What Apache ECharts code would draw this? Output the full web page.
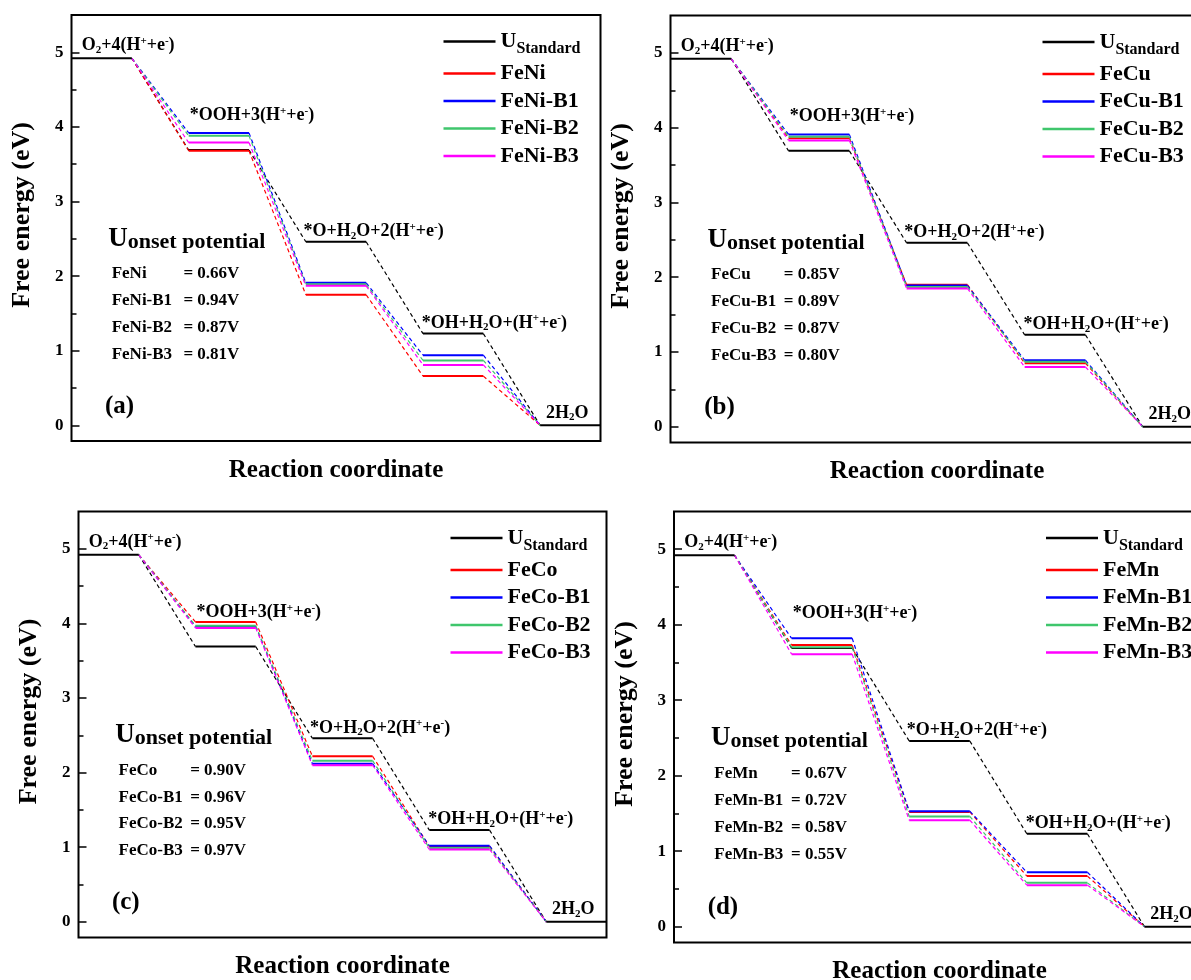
<!DOCTYPE html>
<html>
<head>
<meta charset="utf-8">
<title>Free energy diagrams</title>
<script src="https://cdn.jsdelivr.net/npm/echarts@6/dist/echarts.min.js"></script>
<style>
html, body { margin: 0; padding: 0; background: #fff; }
#main { width: 1191px; height: 980px; }
</style>
</head>
<body>
<div id="main"></div>
<script>
var SERIF = '"Liberation Serif", "Times New Roman", serif';

// reaction steps, rich text: {sub|..} subscript, {sup|..} superscript
var stepLabels = [
    '{n|O}{sub|2}{n|+4(H}{sup|+}{n|+e}{sup|-}{n|)}',
    '{n|*OOH+3(H}{sup|+}{n|+e}{sup|-}{n|)}',
    '{n|*O+H}{sub|2}{n|O+2(H}{sup|+}{n|+e}{sup|-}{n|)}',
    '{n|*OH+H}{sub|2}{n|O+(H}{sup|+}{n|+e}{sup|-}{n|)}',
    '{n|2H}{sub|2}{n|O}'
];

// free energy of each step (eV)
var standard = [4.92, 3.69, 2.46, 1.23, 0];

var feNi   = [4.92, 3.68, 1.75, 0.66, 0];
var feNiB1 = [4.92, 3.92, 1.91, 0.94, 0];
var feNiB2 = [4.92, 3.88, 1.89, 0.87, 0];
var feNiB3 = [4.92, 3.79, 1.87, 0.81, 0];

var feCu   = [4.92, 3.86, 1.90, 0.85, 0];
var feCuB1 = [4.92, 3.91, 1.89, 0.89, 0];
var feCuB2 = [4.92, 3.88, 1.87, 0.87, 0];
var feCuB3 = [4.92, 3.83, 1.85, 0.80, 0];

var feCo   = [4.92, 4.02, 2.22, 1.01, 0];
var feCoB1 = [4.92, 3.96, 2.12, 1.02, 0];
var feCoB2 = [4.92, 3.97, 2.16, 0.99, 0];
var feCoB3 = [4.92, 3.94, 2.10, 0.97, 0];

var feMn   = [4.92, 3.73, 1.52, 0.67, 0];
var feMnB1 = [4.92, 3.82, 1.53, 0.72, 0];
var feMnB2 = [4.92, 3.70, 1.46, 0.58, 0];
var feMnB3 = [4.92, 3.61, 1.41, 0.55, 0];

var namesA = ['FeNi', 'FeNi-B1', 'FeNi-B2', 'FeNi-B3'];
var namesB = ['FeCu', 'FeCu-B1', 'FeCu-B2', 'FeCu-B3'];
var namesC = ['FeCo', 'FeCo-B1', 'FeCo-B2', 'FeCo-B3'];
var namesD = ['FeMn', 'FeMn-B1', 'FeMn-B2', 'FeMn-B3'];

var onsetA = ['0.66V', '0.94V', '0.87V', '0.81V'];
var onsetB = ['0.85V', '0.89V', '0.87V', '0.80V'];
var onsetC = ['0.90V', '0.96V', '0.95V', '0.97V'];
var onsetD = ['0.67V', '0.72V', '0.58V', '0.55V'];

var yTicks = [0, 1, 2, 3, 4, 5];
var yMinorTicks = [0.5, 1.5, 2.5, 3.5, 4.5];

var colors = ['#ff0000', '#0000ff', '#3fc66c', '#ff00ff'];

var panels = [
    {letter: '(a)', names: namesA, onset: onsetA, levels: [feNi, feNiB1, feNiB2, feNiB3], eqAt: 0.955},
    {letter: '(b)', names: namesB, onset: onsetB, levels: [feCu, feCuB1, feCuB2, feCuB3], eqAt: 0.96},
    {letter: '(c)', names: namesC, onset: onsetC, levels: [feCo, feCoB1, feCoB2, feCoB3], eqAt: 0.955},
    {letter: '(d)', names: namesD, onset: onsetD, levels: [feMn, feMnB1, feMnB2, feMnB3], eqAt: 0.995}
];

// layout
var grids = [
    {left: 71.5, top: 15, width: 529, height: 426},
    {left: 670.5, top: 15.5, width: 533, height: 427},
    {left: 78.5, top: 511.5, width: 528, height: 426},
    {left: 674, top: 511.5, width: 531, height: 431}
];
var LEVEL_W = 0.515;
var X_MAX = 4.515;
var BREAK = ['-', '-'];

function solidPoints(vals, from, to) {
    var pts = [];
    for (var k = from; k <= to; k++) {
        if (pts.length) pts.push(BREAK);
        pts.push([k, vals[k]], [k + LEVEL_W, vals[k]]);
    }
    return pts;
}

function dashPoints(vals) {
    var pts = [];
    for (var k = 0; k < vals.length - 1; k++) {
        if (pts.length) pts.push(BREAK);
        pts.push([k + LEVEL_W, vals[k]], [k + 1, vals[k + 1]]);
    }
    return pts;
}

function lineSeries(name, p, color, data, dashed) {
    return {
        name: name,
        type: 'line',
        xAxisIndex: p,
        yAxisIndex: 2 * p,
        data: data,
        symbol: 'none',
        silent: true,
        animation: false,
        color: color,
        itemStyle: {color: color},
        lineStyle: dashed ? {color: color, width: 1.2, type: [4, 3]} : {color: color, width: 2},
        z: dashed ? 2 : 3
    };
}

var axisFont = {fontFamily: SERIF, fontWeight: 'bold', color: '#000'};

var option = {
    backgroundColor: '#fff',
    animation: false,
    grid: [],
    xAxis: [],
    yAxis: [],
    legend: [],
    series: []
};

panels.forEach(function (panel, p) {
    var g = grids[p];
    option.grid.push({
        left: g.left, top: g.top, width: g.width, height: g.height,
        show: true, borderColor: '#000', borderWidth: 2,
        backgroundColor: 'transparent', containLabel: false, outerBoundsMode: 'none'
    });
    option.xAxis.push({
        gridIndex: p, type: 'value', min: 0, max: X_MAX,
        axisLine: {show: false}, axisTick: {show: false},
        axisLabel: {show: false}, splitLine: {show: false},
        name: 'Reaction coordinate', nameLocation: 'middle', nameGap: 17,
        nameTextStyle: Object.assign({fontSize: 25}, axisFont)
    });
    option.yAxis.push({
        gridIndex: p, type: 'value', position: 'left', min: -0.21, max: 5.5,
        axisLine: {show: false}, splitLine: {show: false},
        axisTick: {show: true, inside: true, length: 8, customValues: yTicks,
            lineStyle: {color: '#000', width: 1.5}},
        axisLabel: Object.assign({customValues: yTicks, margin: 8, fontSize: 17}, axisFont)
    });
    option.yAxis.push({
        gridIndex: p, type: 'value', position: 'left', min: -0.21, max: 5.5,
        axisLine: {show: false}, splitLine: {show: false},
        axisTick: {show: true, inside: true, length: 5, customValues: yMinorTicks,
            lineStyle: {color: '#000', width: 1.5}},
        axisLabel: {show: false}
    });

    option.series.push(lineSeries('UStandard', p, '#000', solidPoints(standard, 0, 4), false));
    option.series.push(lineSeries('UStandard~d' + p, p, '#000', dashPoints(standard), true));
    panel.levels.forEach(function (vals, s) {
        option.series.push(lineSeries(panel.names[s] + '~d', p, colors[s], dashPoints(vals), true));
        option.series.push(lineSeries(panel.names[s], p, colors[s], solidPoints(vals, 1, 3), false));
    });

    option.legend.push({
        data: ['UStandard'].concat(panel.names),
        left: g.left + 372, top: g.top + 15.5,
        orient: 'vertical', padding: 0, itemGap: 5.5,
        itemWidth: 52, itemHeight: 2.5, icon: 'rect',
        selectedMode: false,
        formatter: function (name) {
            return name === 'UStandard' ? '{u|U}{s|Standard}' : name;
        },
        textStyle: {
            fontFamily: SERIF, fontWeight: 'bold', fontSize: 22, color: '#000',
            rich: {
                u: {fontFamily: SERIF, fontWeight: 'bold', fontSize: 22, color: '#000'},
                s: {fontFamily: SERIF, fontWeight: 'bold', fontSize: 16, color: '#000', padding: [15, 0, 0, 0]}
            }
        }
    });
});

var chart = echarts.init(document.getElementById('main'));
chart.setOption(option);

// text annotations, anchored in data coordinates of each grid
var stepPos = [[0.087, 5.09], [1.01, 4.15], [1.98, 2.60], [2.99, 1.37], [4.05, 0.165]];
var onsetRows = [2.03, 1.67, 1.31, 0.95];

function font(size) {
    return 'bold ' + size + 'px ' + SERIF;
}

var stepRich = {
    n: {font: font(18)},
    sub: {font: font(11), padding: [9, 0, 0, 0]},
    sup: {font: font(11), padding: [0, 0, 9, 0]}
};

function textEl(pt, text, size, rich, extra) {
    var el = {
        type: 'text', x: pt[0], y: pt[1], silent: true, z: 10,
        style: {
            text: text, font: font(size), fill: '#000',
            align: 'left', verticalAlign: 'middle',
            textAlign: 'left', textVerticalAlign: 'middle'
        }
    };
    if (rich) el.style.rich = rich;
    if (extra) Object.assign(el, extra);
    return el;
}

var graphics = [];
panels.forEach(function (panel, p) {
    var g = grids[p];
    function px(u, v) {
        return chart.convertToPixel({gridIndex: p}, [u, v]);
    }
    stepLabels.forEach(function (lab, k) {
        graphics.push(textEl(px(stepPos[k][0], stepPos[k][1]), lab, 18, stepRich));
    });
    graphics.push(textEl(px(0.314, 2.50), '{u|U}{o|onset potential}', 22, {
        u: {font: font(27)},
        o: {font: font(22), padding: [6, 0, 0, 0]}
    }));
    panel.names.forEach(function (nm, s) {
        graphics.push(textEl(px(0.343, onsetRows[s]), nm, 17));
        graphics.push(textEl(px(panel.eqAt, onsetRows[s]), '= ' + panel.onset[s], 17));
    });
    graphics.push(textEl(px(0.286, 0.255), panel.letter, 25));
    // y axis title
    var yt = textEl([g.left - 49, g.top + g.height / 2 - 13], 'Free energy (eV)', 26, null,
        {rotation: Math.PI / 2});
    yt.style.align = 'center';
    yt.style.textAlign = 'center';
    graphics.push(yt);
});

chart.setOption({graphic: graphics});
</script>
</body>
</html>
